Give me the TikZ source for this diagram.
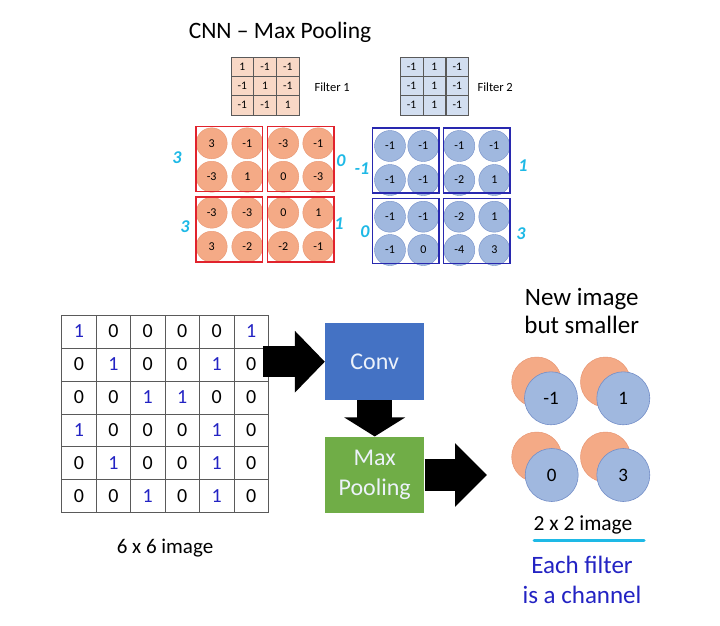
\documentclass[tikz,border=0pt]{standalone}
\usepackage{fontspec}
\setmainfont{Carlito}
\usetikzlibrary{arrows.meta}
\definecolor{peach}{RGB}{248,216,198}
\definecolor{lblue}{RGB}{210,222,240}
\definecolor{salmon}{RGB}{244,170,134}
\definecolor{salmonedge}{RGB}{232,150,115}
\definecolor{cblue}{RGB}{160,184,223}
\definecolor{cblueedge}{RGB}{115,142,200}
\definecolor{redbox}{RGB}{225,35,45}
\definecolor{navybox}{RGB}{40,40,175}
\definecolor{hand}{RGB}{30,185,230}
\definecolor{convblue}{RGB}{68,114,196}
\definecolor{poolgreen}{RGB}{112,173,71}
\definecolor{textblue}{RGB}{35,35,195}
\definecolor{gridline}{RGB}{90,90,90}
\newcommand\cellval[1]{\ifnum#1=1 \textcolor{textblue}{1}\else 0\fi}
\tikzset{
  fcell/.style={draw=gridline, line width=0.5pt, minimum width=22.7pt, minimum height=19.3pt, inner sep=0pt, font=\fontsize{11.5}{13}\selectfont},
  gcell/.style={draw=gridline, line width=0.7pt, minimum width=34.43pt, minimum height=32.95pt, inner sep=0pt, font=\fontsize{20}{23}\selectfont},
  rcirc/.style={circle, fill=salmon, draw=salmonedge, line width=0.4pt, minimum size=31pt, inner sep=0pt, font=\fontsize{12}{14}\selectfont},
  bcirc/.style={circle, fill=cblue, draw=cblueedge, line width=0.4pt, minimum size=31pt, inner sep=0pt, font=\fontsize{12}{14}\selectfont},
  rbox/.style={draw=redbox, line width=1.3pt, minimum width=66.5pt, minimum height=65pt, inner sep=0pt},
  bbox/.style={draw=navybox, line width=1.3pt, minimum width=66.5pt, minimum height=65pt, inner sep=0pt},
  handlbl/.style={text=hand, font=\fontsize{18}{20}\selectfont\bfseries\itshape},
  procbox/.style={minimum width=99.3pt, minimum height=76.7pt, inner sep=0pt, align=center, text={rgb,255:red,236;green,242;blue,250}, font=\fontsize{24}{30}\selectfont},
  blockarrow/.style={draw=black, line cap=butt},
  bigr/.style={circle, fill=salmon, draw=salmonedge, line width=0.5pt, minimum size=50pt, inner sep=0pt},
  bigb/.style={circle, fill=cblue, draw=cblueedge, line width=0.6pt, minimum size=53pt, inner sep=0pt, font=\fontsize{19}{22}\selectfont},
}
\begin{document}
\begin{tikzpicture}[x=1pt,y=-1pt]
\useasboundingbox[fill=white] (0,0) rectangle (720,625);

% title
\node[font=\fontsize{23.5}{28}\selectfont] (title) at (280,32) {CNN – Max Pooling};

% filters
\foreach \v [count=\i from 0] in {1,-1,-1,-1,1,-1,-1,-1,1}{
  \pgfmathtruncatemacro\rr{div(\i,3)}
  \pgfmathtruncatemacro\cc{mod(\i,3)}
  \node[fcell, fill=peach] (fa-\rr-\cc) at ({231+22.7*(\cc+0.5)},{57+19.3*(\rr+0.5)}) {\v};
}
\foreach \v [count=\i from 0] in {-1,1,-1,-1,1,-1,-1,1,-1}{
  \pgfmathtruncatemacro\rr{div(\i,3)}
  \pgfmathtruncatemacro\cc{mod(\i,3)}
  \node[fcell, fill=lblue] (fb-\rr-\cc) at ({400+22.9*(\cc+0.5)},{57+19.3*(\rr+0.5)}) {\v};
}
\node[anchor=west, font=\fontsize{12.5}{14}\selectfont] (f1lbl) at (311,87) {Filter 1};
\node[anchor=west, font=\fontsize{12.5}{14}\selectfont] (f2lbl) at (474,87) {Filter 2};

% red feature map circles
\foreach \v [count=\i from 0] in {3,-1,-3,-1, -3,1,0,-3, -3,-3,0,1, 3,-2,-2,-1}{
  \pgfmathtruncatemacro\rr{div(\i,4)}
  \pgfmathtruncatemacro\cc{mod(\i,4)}
  \pgfmathsetmacro\xx{{211.7,247.3,283.3,318.3}[\cc]}
  \pgfmathsetmacro\yy{{143.3,176.7,212.7,246.7}[\rr]}
  \node[rcirc] (rc-\rr-\cc) at (\xx,\yy) {\v};
}
% blue feature map circles
\foreach \v [count=\i from 0] in {-1,-1,-1,-1, -1,-1,-2,1, -1,-1,-2,1, -1,0,-4,3}{
  \pgfmathtruncatemacro\rr{div(\i,4)}
  \pgfmathtruncatemacro\cc{mod(\i,4)}
  \pgfmathsetmacro\xx{{390,423.3,459.3,494.3}[\cc]}
  \pgfmathsetmacro\yy{{146,180,216.7,250}[\rr]}
  \node[bcirc] (bc-\rr-\cc) at (\xx,\yy) {\v};
}
% pooling boxes
\node[rbox] (rb1) at (229.3,159.2) {};
\node[rbox] (rb2) at (300.8,159.2) {};
\node[rbox] (rb3) at (229.3,229.5) {};
\node[rbox] (rb4) at (300.8,229.5) {};
\node[bbox] (bb1) at (405.7,160.5) {};
\node[bbox] (bb2) at (476.7,160.5) {};
\node[bbox] (bb3) at (405.7,230.8) {};
\node[bbox] (bb4) at (476.7,230.8) {};

% handwritten maxima
\node[handlbl] (h1) at (177,158) {3};
\node[handlbl] (h2) at (341,161) {0};
\node[handlbl] (h3) at (362,169) {-1};
\node[handlbl] (h4) at (523,166) {1};
\node[handlbl] (h5) at (185,227) {3};
\node[handlbl] (h6) at (339,224) {1};
\node[handlbl] (h7) at (365,232) {0};
\node[handlbl] (h8) at (521,234) {3};

% 6x6 image
\foreach \v [count=\i from 0] in {1,0,0,0,0,1, 0,1,0,0,1,0, 0,0,1,1,0,0, 1,0,0,0,1,0, 0,1,0,0,1,0, 0,0,1,0,1,0}{
  \pgfmathtruncatemacro\rr{div(\i,6)}
  \pgfmathtruncatemacro\cc{mod(\i,6)}
  \node[gcell] (g-\rr-\cc) at ({61.7+34.43*(\cc+0.5)},{315+32.95*(\rr+0.5)}) {\cellval{\v}};
}
\node[font=\fontsize{21}{24}\selectfont] (imglbl) at (165,548) {6 x 6 image};

% process boxes
\node[procbox, fill=convblue] (conv) at (374.7,361.7) {Conv};
\node[procbox, fill=poolgreen] (pool) at (374.7,475) {Max\\Pooling};

% block arrows
\coordinate (imgE) at (263,361.7);
\coordinate (outTip) at (487,475);
\draw[blockarrow, line width=31pt, -{Triangle[length=30pt,width=60pt]}] (imgE) -- (conv.west);
\draw[blockarrow, line width=35pt, -{Triangle[length=19pt,width=60pt]}] (conv.south) -- (pool.north);
\draw[blockarrow, line width=32pt, -{Triangle[length=32pt,width=62pt]}] (pool.east) -- (outTip);

% result
\node[font=\fontsize{25}{28.5}\selectfont, align=center] (newimg) at (581.7,311) {New image\\but smaller};
\node[bigr] (o1) at (536.7,382) {};
\node[bigr] (o2) at (605.5,382) {};
\node[bigr] (o3) at (536.7,457) {};
\node[bigr] (o4) at (605.5,457) {};
\node[bigb] (p1) at (551,398.3) {-1};
\node[bigb] (p2) at (623.3,398.3) {1};
\node[bigb] (p3) at (551.7,475) {0};
\node[bigb] (p4) at (623.3,475) {3};
\node[font=\fontsize{21.5}{24}\selectfont] (two) at (583,525) {2 x 2 image};
\coordinate (ulA) at (534,540);
\coordinate (ulB) at (644,540);
\draw[hand, line width=3pt, line cap=round] (ulA) -- (ulB);
\node[font=\fontsize{25}{30}\selectfont, text=textblue, align=center] (chan) at (582,580) {Each filter\\is a channel};
\end{tikzpicture}
\end{document}
